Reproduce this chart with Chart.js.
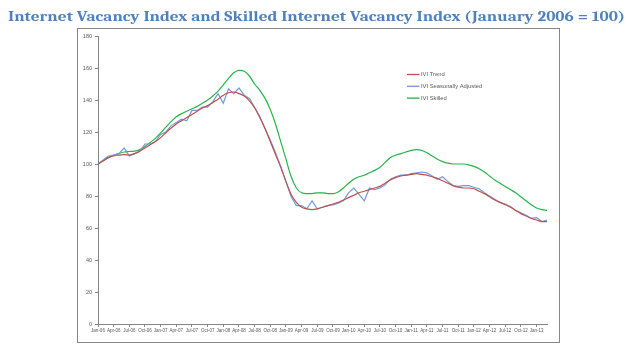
<!DOCTYPE html>
<html>
<head>
<meta charset="utf-8">
<script src="https://cdn.jsdelivr.net/npm/chart.js@4"></script>
<style>
  html, body { margin: 0; padding: 0; background: #fff; }
  #wrap { width: 632px; height: 354px; position: relative; }
</style>
</head>
<body>
<div id="wrap"><canvas id="ivi"></canvas></div>
<script>
// Jan-06 .. Mar-13, monthly
const monthNames = ['Jan', 'Feb', 'Mar', 'Apr', 'May', 'Jun', 'Jul', 'Aug', 'Sep', 'Oct', 'Nov', 'Dec'];
const years = ['06', '07', '08', '09', '10', '11', '12', '13'];
const months = [];
years.forEach(y => monthNames.forEach(m => months.push(m + '-' + y)));
months.length = 87;

const iviTrend = [
  100, 102, 104, 105, 105.5, 105.8, 105.6, 106.5, 108, 110, 112, 114,
  116.5, 119.5, 122.5, 125, 127, 129, 131, 133, 135, 136.5, 138.5, 140.5,
  143, 144.5, 145, 144, 142.5, 139.5, 135, 129, 122, 114, 106, 98,
  89, 81, 76, 73, 72, 71.5, 72, 73, 74, 75, 76, 77.5,
  79, 80.5, 82, 83, 84, 85, 86, 88, 90, 91.5, 92.5, 93,
  93.5, 94, 93.5, 93, 92, 91, 89.5, 88, 86.5, 85.5, 85, 85,
  84.5, 83, 81.5, 79.5, 77.5, 76, 74.5, 73, 71, 69, 67.5, 66,
  65, 64, 64
];
const iviSA = [
  100, 102.5, 105, 105.5, 106.5, 110, 105, 106.5, 108, 112.5, 112.5, 114,
  118.5, 120, 124, 126, 128, 127, 133.5, 133.5, 135.5, 135.5, 139, 144,
  138, 147, 144, 147.5, 143, 141, 135.5, 129.5, 122, 115, 107, 98.5,
  89, 79.5, 74, 74, 72, 77, 72, 73, 74, 74.5, 75.5, 77,
  82, 85, 81, 77, 85, 84, 85, 87, 90.5, 92, 93, 93,
  94, 94.5, 95, 94.5, 92.5, 90.5, 92, 89, 86.5, 86, 86.5, 86.5,
  85.5, 84.5, 82, 80, 78, 76, 75, 73.5, 71, 69.5, 68, 66,
  66.5, 64, 65
];
const iviSkilled = [
  100, 102, 104, 105.5, 106.5, 107.5, 107.8, 108, 109, 111, 113.5, 116,
  119.5, 123, 126.5, 129.5, 131.5, 133, 134.5, 136, 138, 140, 142.5, 145.5,
  149.5, 153.5, 157, 158.5, 158, 155, 150, 146, 141, 134, 125, 114,
  103, 92, 85, 82, 81.5, 81.5, 82, 82, 81.5, 81.5, 82.5, 85,
  88, 90.5, 92, 93, 94.5, 96, 98, 101, 104, 105.5, 106.5, 107.5,
  108.5, 109, 108.5, 107, 105, 103, 101.5, 100.5, 100, 100, 100, 99.5,
  98.5, 97, 95, 92.5, 90, 88, 86, 84, 82, 79.5, 77, 74.5,
  72.5, 71.5, 71
];
const seriesNames = ['IVI Trend', 'IVI Seasonally Adjusted', 'IVI Skilled'];
const yTicks = [0, 20, 40, 60, 80, 100, 120, 140, 160, 180];
const chartTitle = 'Internet Vacancy Index and Skilled Internet Vacancy Index (January 2006 = 100)';

const axisGrey = '#868686';
const textGrey = '#595959';

// title across the whole page, frame around the plot, legend inside it
const framePlugin = {
  id: 'frame',
  afterDraw(chart) {
    const ctx = chart.ctx;
    ctx.save();
    ctx.font = 'bold 13px Cambria, "DejaVu Serif", serif';
    ctx.fillStyle = '#4f81bd';
    ctx.textBaseline = 'alphabetic';
    const w = ctx.measureText(chartTitle).width;
    ctx.translate(8, 20.5);
    ctx.scale(617 / w, 1);
    ctx.fillText(chartTitle, 0, 0);
    ctx.restore();

    ctx.save();
    ctx.strokeStyle = axisGrey;
    ctx.lineWidth = 1;
    ctx.strokeRect(77.5, 28.5, 482, 314);

    let y = 74.5;
    ctx.font = '5.8px "Liberation Sans", Arial, sans-serif';
    ctx.textBaseline = 'middle';
    chart.data.datasets.forEach(ds => {
      ctx.strokeStyle = ds.borderColor;
      ctx.lineWidth = 1.3;
      ctx.beginPath();
      ctx.moveTo(407, y);
      ctx.lineTo(419.5, y);
      ctx.stroke();
      ctx.fillStyle = textGrey;
      ctx.fillText(ds.label, 421, y);
      y += 11.8;
    });
    ctx.restore();
  }
};

new Chart(document.getElementById('ivi'), {
  type: 'line',
  data: {
    labels: months,
    datasets: [
      { label: seriesNames[0], data: iviTrend, borderColor: '#c0504d', borderWidth: 1.2,
        pointRadius: 0, tension: 0.4, cubicInterpolationMode: 'monotone' },
      { label: seriesNames[1], data: iviSA, borderColor: '#6f9be0', borderWidth: 1.2,
        pointRadius: 0, tension: 0 },
      { label: seriesNames[2], data: iviSkilled, borderColor: '#25b44a', borderWidth: 1.2,
        pointRadius: 0, tension: 0.4, cubicInterpolationMode: 'monotone' }
    ]
  },
  options: {
    responsive: true,
    maintainAspectRatio: false,
    animation: false,
    layout: { padding: { top: 36, left: 0, right: 85, bottom: 12 } },
    plugins: {
      legend: { display: false },
      tooltip: { enabled: false },
      title: { display: false }
    },
    scales: {
      x: {
        offset: false,
        border: { display: true, color: axisGrey },
        grid: {
          drawOnChartArea: false,
          tickLength: 3,
          color: c => (c.index % 3 === 0 ? axisGrey : 'rgba(0,0,0,0)')
        },
        ticks: {
          autoSkip: false,
          maxRotation: 0,
          minRotation: 0,
          padding: 1,
          color: textGrey,
          font: { family: '"Liberation Sans", Arial, sans-serif', size: 4.5 },
          callback: (v, i) => (i % 3 === 0 ? months[i] : '')
        },
        afterFit: s => { s.height = 18; }
      },
      y: {
        min: 0,
        max: 180,
        border: { display: true, color: axisGrey },
        grid: { drawOnChartArea: false, tickLength: 3, color: axisGrey },
        afterBuildTicks: s => { s.ticks = yTicks.map(v => ({ value: v })); },
        ticks: {
          padding: 3,
          color: textGrey,
          font: { family: '"Liberation Sans", Arial, sans-serif', size: 5.5 }
        },
        afterFit: s => { s.width = 98; }
      }
    }
  },
  plugins: [framePlugin]
});
</script>
</body>
</html>
